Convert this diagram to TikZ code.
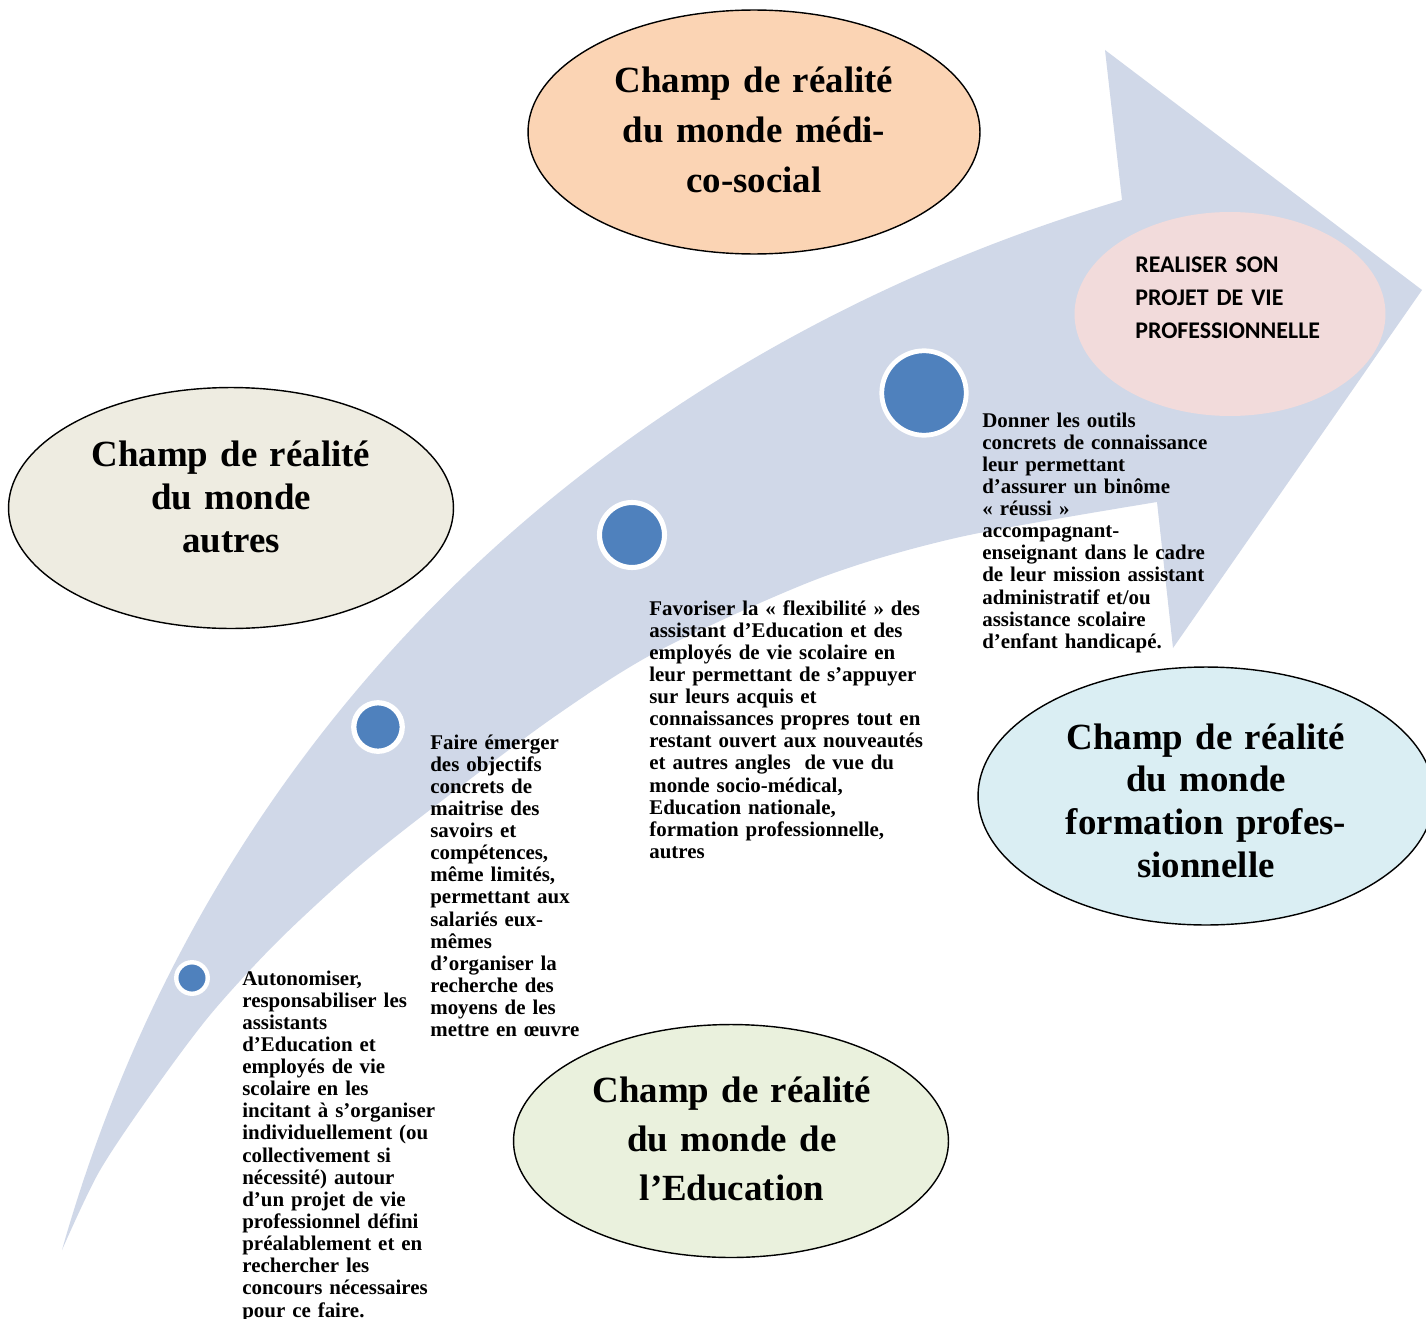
\documentclass[tikz,border=0pt]{standalone}
\usepackage{fontspec}
\setmainfont{Liberation Serif}
\newfontfamily\calib{Carlito}
\usetikzlibrary{shapes.geometric}
\definecolor{arrowfill}{HTML}{D0D8E8}
\definecolor{dotblue}{HTML}{4F81BD}
\definecolor{peach}{HTML}{FBD4B4}
\definecolor{beige}{HTML}{EEECE1}
\definecolor{lightblue}{HTML}{DAEEF3}
\definecolor{lightgreen}{HTML}{EAF1DD}
\definecolor{lightpink}{HTML}{F2DBDB}
\begin{document}
\begin{tikzpicture}[x=0.02cm,y=-0.02cm,
  fieldell/.style={ellipse, draw=black, line width=0.8pt, inner sep=0pt},
  bigtxt/.style={align=center, anchor=base, inner sep=0pt, text width=9cm},
  smalltxt/.style={align=left, anchor=base west, inner sep=0pt, text width=6cm,
    font=\fontsize{11.9}{12.6}\selectfont\bfseries},
  dotnode/.style={circle, fill=dotblue, draw=white, inner sep=0pt}
]
\useasboundingbox[fill=white] (0,0) rectangle (1426,1318);

% big curved arrow
\fill[arrowfill]
  (62,1250) .. controls (215,710) and (620,350) .. (1122,200)
  -- (1105,50) -- (1422,290) -- (1173,648) -- (1157,502)
  -- plot[smooth] coordinates {(1157,502) (960,537) (820,578) (660,650)
    (554,717) (435,806) (356,869) (277,942) (210,1015) (151,1094)
    (99,1172) (62,1250)}
  -- cycle;

% field ellipses
\node[fieldell, fill=peach, minimum width=9.04cm, minimum height=4.88cm] (emed) at (754,132) {};
\node[fieldell, fill=beige, minimum width=8.9cm, minimum height=4.82cm] (eaut) at (231,508) {};
\node[fieldell, fill=lightblue, minimum width=9.12cm, minimum height=5.16cm] (efor) at (1206,796) {};
\node[fieldell, fill=lightgreen, minimum width=8.7cm, minimum height=4.66cm] (eedu) at (731,1141) {};
\node[ellipse, fill=lightpink, inner sep=0pt, minimum width=6.22cm, minimum height=4.08cm] (ereal) at (1230,314) {};

\node[bigtxt, font=\fontsize{21}{28.5}\selectfont\bfseries] (tmed) at (754,92)
  {Champ de réalité\\du monde médi-\\co-social};
\node[bigtxt, font=\fontsize{21}{24.5}\selectfont\bfseries] (taut) at (231,466)
  {Champ de réalité\\du monde\\autres};
\node[bigtxt, font=\fontsize{21}{24.4}\selectfont\bfseries] (tfor) at (1206,749)
  {Champ de réalité\\du monde\\formation profes-\\sionnelle};
\node[bigtxt, font=\fontsize{21}{27.9}\selectfont\bfseries] (tedu) at (732,1102)
  {Champ de réalité\\du monde de\\l’Education};

\node[align=left, anchor=base west, inner sep=0pt, text width=5cm,
  font=\calib\fontsize{13.6}{18.8}\selectfont\bfseries] (treal) at (1135,272)
  {REALISER SON\\PROJET DE VIE\\PROFESSIONNELLE};

% dots
\node[dotnode, minimum size=0.63cm, line width=2.5pt] (d1) at (192,978) {};
\node[dotnode, minimum size=0.97cm, line width=3pt] (d2) at (378,727) {};
\node[dotnode, minimum size=1.3cm, line width=2.9pt] (d3) at (632,535) {};
\node[dotnode, minimum size=1.69cm, line width=2.7pt] (d4) at (924,393) {};

% step texts
\node[smalltxt] (s1) at (242,985)
  {Autonomiser,\\responsabiliser les\\assistants\\d’Education et\\employés de vie\\scolaire en les\\incitant à s’organiser\\individuellement (ou\\collectivement si\\nécessité) autour\\d’un projet de vie\\professionnel défini\\préalablement et en\\rechercher les\\concours nécessaires\\pour ce faire.};
\node[smalltxt] (s2) at (430,749)
  {Faire émerger\\des objectifs\\concrets de\\maitrise des\\savoirs et\\compétences,\\même limités,\\permettant aux\\salariés eux-\\mêmes\\d’organiser la\\recherche des\\moyens de les\\mettre en œuvre};
\node[smalltxt] (s3) at (649,615)
  {Favoriser la « flexibilité » des\\assistant d’Education et des\\employés de vie scolaire en\\leur permettant de s’appuyer\\sur leurs acquis et\\connaissances propres tout en\\restant ouvert aux nouveautés\\et autres angles\ \ de vue du\\monde socio-médical,\\Education nationale,\\formation professionnelle,\\autres};
\node[smalltxt] (s4) at (982,427)
  {Donner les outils\\concrets de connaissance\\leur permettant\\d’assurer un binôme\\« réussi »\\accompagnant-\\enseignant dans le cadre\\de leur mission assistant\\administratif et/ou\\assistance scolaire\\d’enfant handicapé.};
\end{tikzpicture}
\end{document}
